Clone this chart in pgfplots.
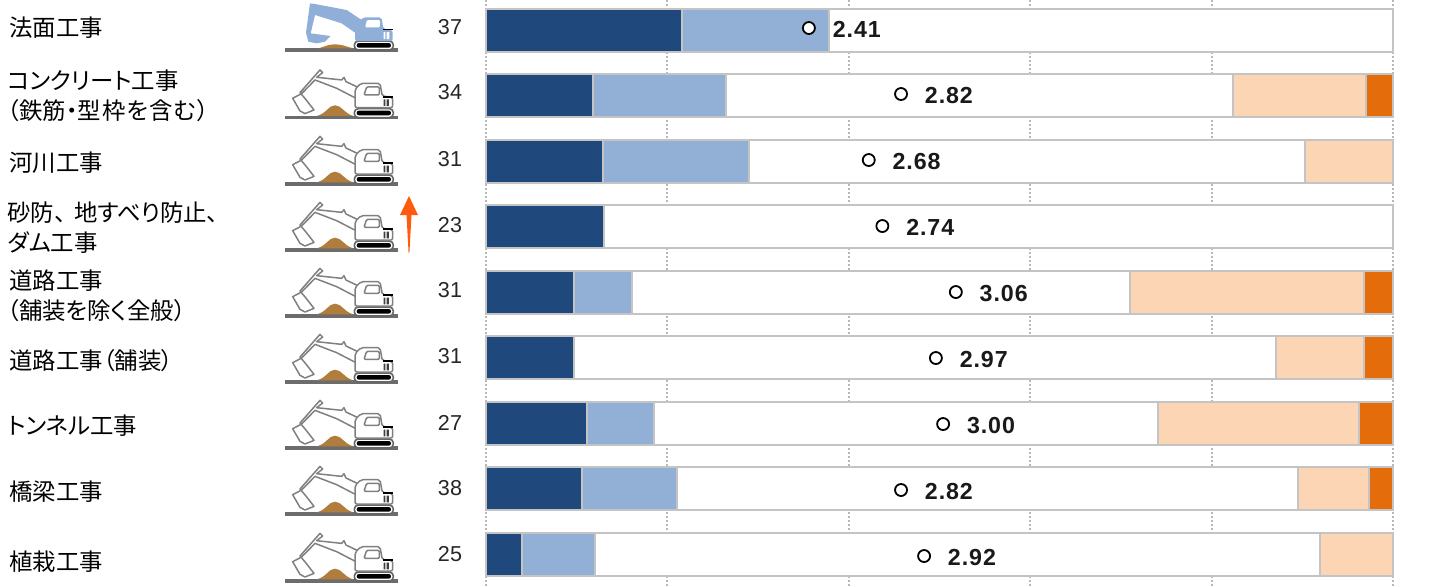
\documentclass[border=0pt]{standalone}
\usepackage{pgfplots}
\pgfplotsset{compat=1.18}
\usepackage{pgfplotstable}
\usepackage{fontspec}
\setmainfont{Noto Sans CJK JP}[RawFeature=+palt]
\newfontfamily\numfont{Liberation Sans}
\newfontfamily\meanfont{Liberation Sans}[LetterSpace=4]
\definecolor{dk}{HTML}{1F497D}
\definecolor{lb}{HTML}{92B0D5}
\definecolor{pe}{HTML}{FCD5B5}
\definecolor{og}{HTML}{E46C0A}
\definecolor{bd}{HTML}{C4C4C4}
\definecolor{bl}{HTML}{8FAFD9}
\definecolor{mound}{HTML}{B07D3C}
\definecolor{arr}{HTML}{FF5B0F}
\pgfplotstableread{
y a b c d e
30.0 21.62 16.22 62.16 0 0
95.6 11.76 14.71 55.88 14.71 2.94
161.1 12.90 16.13 61.29 9.68 0
226.7 13.04 0 86.96 0 0
292.2 9.68 6.45 54.84 25.81 3.23
357.8 9.68 0 77.42 9.68 3.23
423.4 11.11 7.41 55.56 22.22 3.70
488.9 10.53 10.53 68.42 7.89 2.63
554.5 4 8 80 8 0
}\bars
\pgfplotstableread{
x y label
35.6 28 2.41
45.76 94 2.82
42.2 160 2.68
43.7 226 2.74
51.8 292 3.06
49.6 358 2.97
50.4 424 3.00
45.76 490 2.82
48.3 556 2.92
}\means
% excavator icon, units 1/6 pt, origin at left end of ground line, y up
\newcommand{\groundmound}[2]{%
  \fill[gray!85!black] (0,-5) rectangle (338,6);
  \fill[mound] (#1,5) .. controls (125,12) and (130,#2) .. (150,#2) .. controls (170,#2) and (178,12) .. (205,5) -- cycle;
}
\newcommand{\tracks}{%
  \draw[black!60,line width=.8pt,fill=white,rounded corners=2pt] (208,0) rectangle (325,27);
  \fill[black,rounded corners=1.1pt] (215,7) rectangle (318,21);
}
\newcommand{\excwhite}{%
  \begin{scope}[x=1pt/6,y=1pt/6]
  \groundmound{95}{37}
  \tracks
  \begin{scope}[draw=black!50,line width=.75pt,fill=white,line join=round]
  \filldraw (105,143) -- (113,135) -- (95,121) -- (170,113) -- (177,121) -- (183,108) -- (225,88) -- (213,58) -- (155,88) -- (90,113) -- (50,72) -- (23,58) -- (45,20) -- (60,12) -- (87,23) -- (62,55) -- (45,75) -- cycle;
  \filldraw[rounded corners=1pt] (210,30) -- (210,85) -- (228,103) -- (285,103) -- (292,64) -- (323,62) -- (323,30) -- cycle;
  \filldraw[rounded corners=.6pt] (237,68) -- (245,92) -- (283,92) -- (283,68) -- cycle;
  \end{scope}
  \fill[black] (295,60) rectangle (323,66);
  \fill[black!75] (296,35) rectangle (301,55) (305,35) rectangle (312,55);
  \end{scope}%
}
\newcommand{\excblue}{%
  \begin{scope}[x=1pt/6,y=1pt/6]
  \groundmound{100}{17}
  \tracks
  \begin{scope}[fill=bl,line join=round]
  \fill (75,140) -- (90,138) -- (185,120) -- (230,90) -- (213,50) -- (170,80) -- (90,105) -- (77,50) -- (137,42) -- (120,25) -- (95,20) -- (70,25) -- (63,52) -- cycle;
  \fill[rounded corners=1pt] (210,27) -- (210,75) -- (235,98) -- (290,98) -- (295,63) -- (323,60) -- (323,27) -- cycle;
  \end{scope}
  \fill[white,rounded corners=.6pt] (240,68) -- (246,90) -- (285,90) -- (285,68) -- cycle;
  \fill[black] (295,59) rectangle (323,64);
  \fill[white] (296,33) rectangle (301,54) (305,33) rectangle (313,54);
  \end{scope}%
}
\begin{document}
\begin{tikzpicture}
\path[use as bounding box] (0,0) rectangle (717pt,-293pt);
\begin{axis}[
  at={(243pt,-293pt)},anchor=south west,scale only axis,
  width=453.5pt,height=293pt,
  xmin=0,xmax=100,ymin=0,ymax=586,y dir=reverse,
  xbar stacked,bar width=21.5pt,
  axis line style={draw=none},
  major tick length=0pt,
  xtick={0,20,40,60,80,100},xticklabels={},
  xmajorgrids,grid style={dash pattern=on .9pt off 1.1pt,black!28,line width=1pt},
  ytick={28,95.6,163,227.7,296,361,425.5,492,561.5},
  yticklabels={{\hspace{1pt}法面工事},{コンクリート工事\\（鉄筋・型\hspace{.5pt}枠\hspace{.5pt}を\hspace{.5pt}含\hspace{.5pt}む\hspace{.5pt}）},{\hspace{1pt}河川工事},{砂防、\hspace{4pt}地すべり防止、\\ダム工事},{\hspace{1pt}道路工事\\（舗装を除く全般）},{\hspace{1pt}道路工事（舗装）},{トンネル工事},{\hspace{1pt}橋梁工事},{\hspace{1pt}植栽工事}},
  yticklabel style={anchor=east,inner sep=0pt,text width=239pt,align=left,font=\fontsize{11.7}{15}\selectfont,xshift=0pt},
  clip=false,
]
\addplot[draw=bd,line width=1pt,fill=dk] table[x=a,y=y] {\bars};
\addplot[draw=bd,line width=1pt,fill=lb] table[x=b,y=y] {\bars};
\addplot[draw=bd,line width=1pt,fill=white] table[x=c,y=y] {\bars};
\addplot[draw=bd,line width=1pt,fill=pe] table[x=d,y=y] {\bars};
\addplot[draw=bd,line width=1pt,fill=og] table[x=e,y=y] {\bars};
\end{axis}
\begin{axis}[
  at={(243pt,-293pt)},anchor=south west,scale only axis,
  width=453.5pt,height=293pt,
  xmin=0,xmax=100,ymin=0,ymax=586,y dir=reverse,
  hide axis,clip=false,
]
\addplot[only marks,mark=*,mark size=3pt,mark options={draw=black,fill=white,line width=.9pt},
  nodes near coords,point meta=explicit symbolic,
  every node near coord/.style={anchor=west,inner sep=0pt,xshift=11.5pt,yshift=-.6pt,font=\meanfont\bfseries\fontsize{11.6}{12}\selectfont,text=black!90}]
  table[x=x,y=y,meta=label] {\means};
\end{axis}
% counts
\begin{scope}[x=.5pt,y=-.5pt,font=\numfont\fontsize{10.8}{12}\selectfont,text=black!85]
\node at (450,27) {37};
\node at (450,92) {34};
\node at (450,159) {31};
\node at (450,225) {23};
\node at (450,290) {31};
\node at (450,356) {31};
\node at (450,423) {27};
\node at (450,488) {38};
\node at (450,554) {25};
\end{scope}
% icons
\begin{scope}[shift={(142.5pt,-25pt)}]\excblue\end{scope}
\begin{scope}[shift={(142.5pt,-58.8pt)}]\excwhite\end{scope}
\begin{scope}[shift={(142.5pt,-92pt)}]\excwhite\end{scope}
\begin{scope}[shift={(142.5pt,-125pt)}]\excwhite\end{scope}
\begin{scope}[shift={(142.5pt,-158pt)}]\excwhite\end{scope}
\begin{scope}[shift={(142.5pt,-191pt)}]\excwhite\end{scope}
\begin{scope}[shift={(142.5pt,-224pt)}]\excwhite\end{scope}
\begin{scope}[shift={(142.5pt,-257pt)}]\excwhite\end{scope}
\begin{scope}[shift={(142.5pt,-290.5pt)}]\excwhite\end{scope}
% arrow
\begin{scope}[x=.5pt,y=-.5pt]
\fill[arr] (409,196) -- (418,215) -- (411.5,215) -- (409.4,253) -- (408.6,253) -- (406.5,215) -- (400,215) -- cycle;
\end{scope}
\end{tikzpicture}
\end{document}
